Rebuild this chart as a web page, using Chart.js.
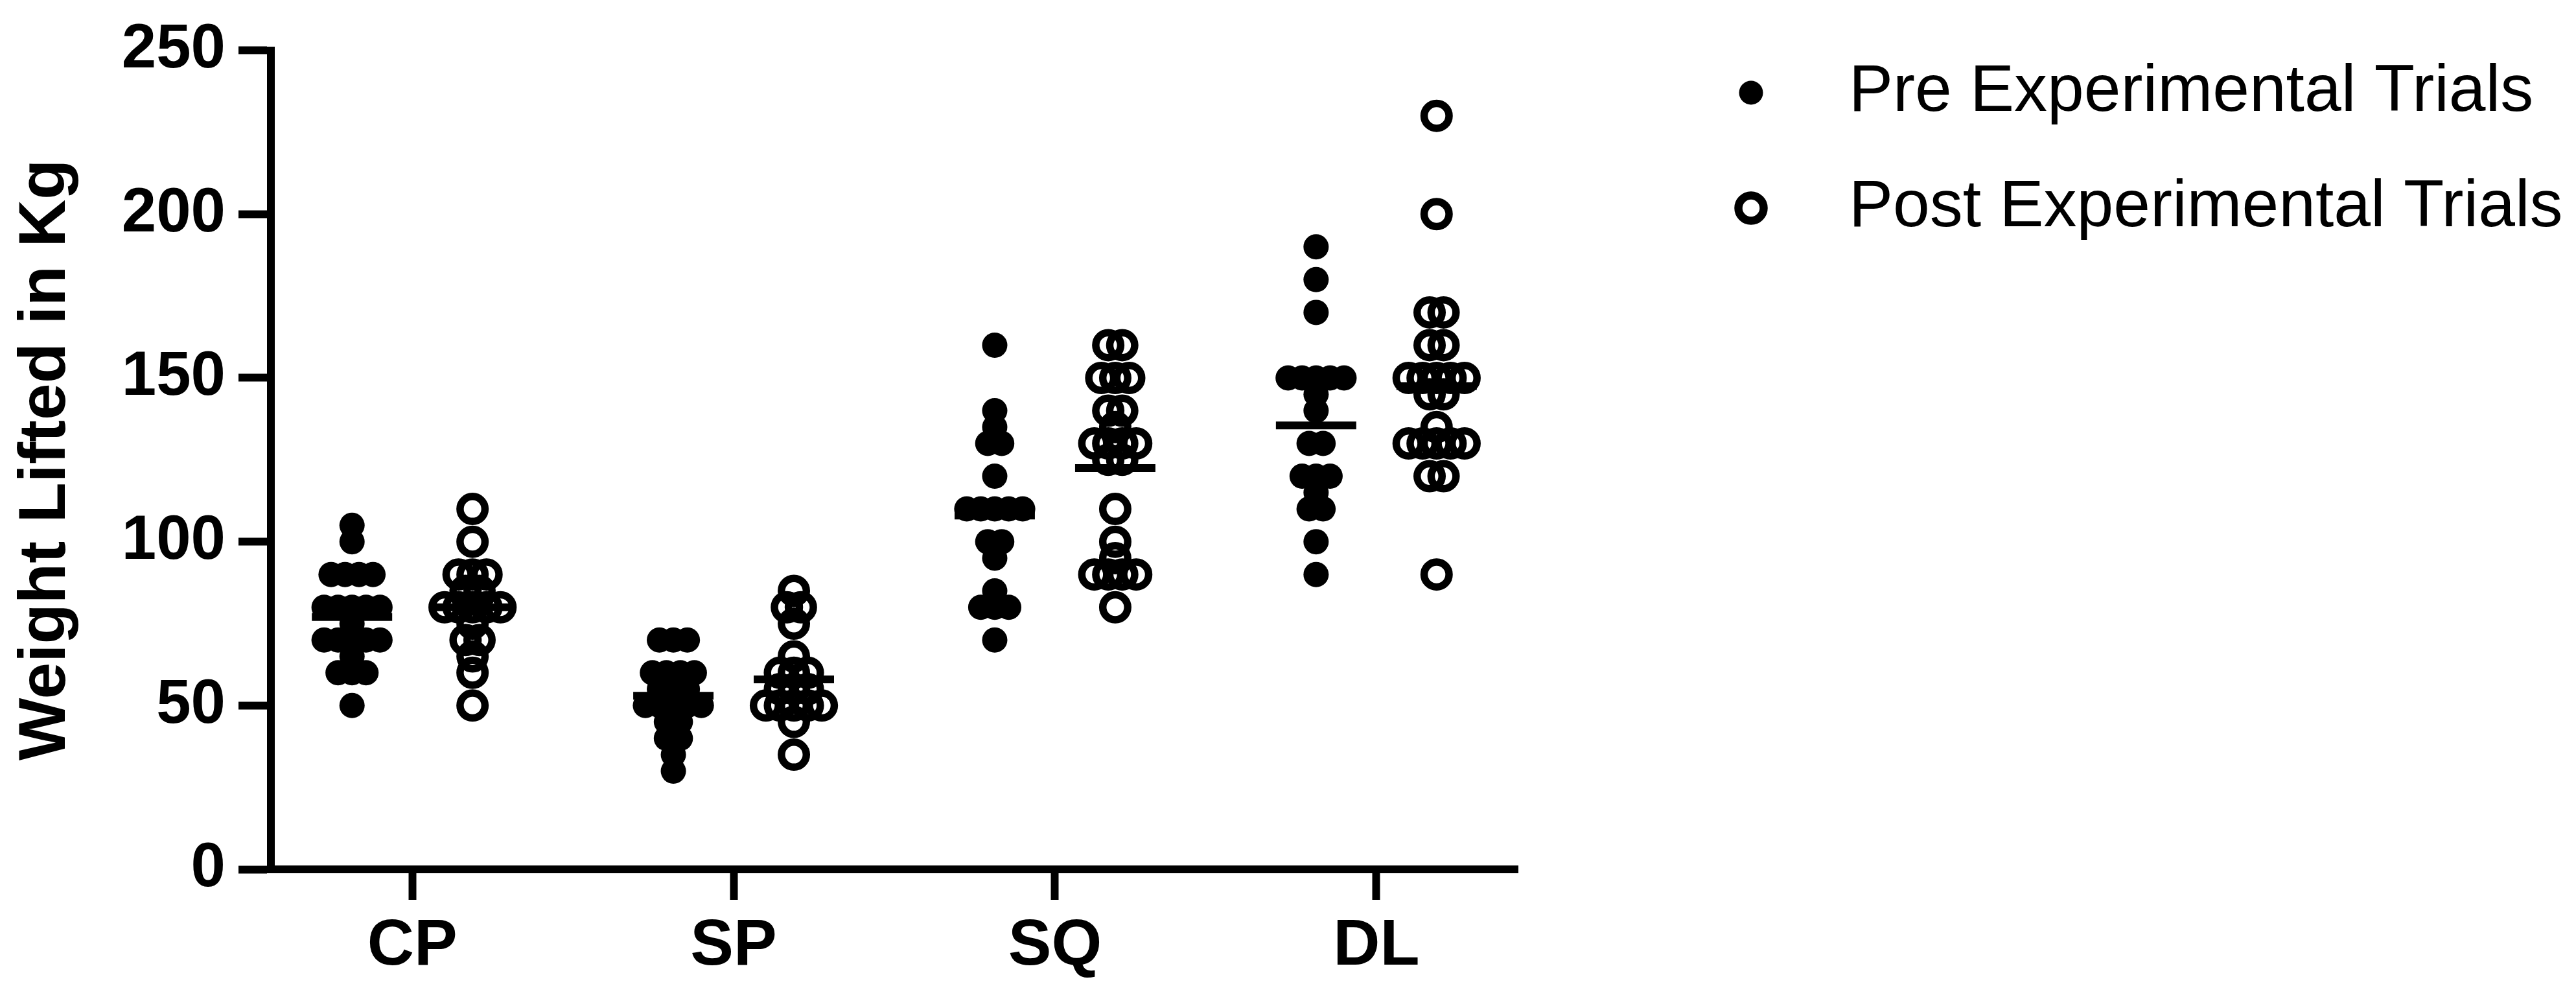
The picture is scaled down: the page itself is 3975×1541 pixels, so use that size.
<!DOCTYPE html>
<html>
<head>
<meta charset="utf-8">
<script src="https://cdn.jsdelivr.net/npm/chart.js@4"></script>
<style>
  html, body { margin: 0; padding: 0; background: #fff; }
</style>
</head>
<body>
<canvas id="grafico" width="3975" height="1541"></canvas>
<script>
// datos (kg)
const categorias = ["CP", "SP", "SQ", "DL"];
const series = ["Pre Experimental Trials", "Post Experimental Trials"];
const yTicks = [0, 50, 100, 150, 200, 250];

const cpPre = [105, 100, 90, 90, 90, 90, 80, 80, 80, 80, 80, 75, 70, 70, 70, 70, 70, 65, 60, 60, 60, 50];
const cpPost = [110, 100, 90, 90, 90, 85, 85, 80, 80, 80, 80, 80, 75, 70, 70, 65, 60, 50];
const spPre = [70, 70, 70, 60, 60, 60, 60, 55, 55, 55, 50, 50, 50, 50, 50, 45, 45, 40, 40, 35, 30];
const spPost = [85, 80, 80, 75, 65, 60, 60, 60, 55, 55, 55, 50, 50, 50, 50, 50, 45, 35];
const sqPre = [160, 140, 135, 130, 130, 120, 110, 110, 110, 110, 110, 100, 100, 95, 85, 80, 80, 80, 70];
const sqPost = [160, 160, 150, 150, 150, 140, 140, 135, 130, 130, 130, 130, 125, 125, 110, 100, 95, 90, 90, 90, 90, 80];
const dlPre = [190, 180, 170, 150, 150, 150, 150, 150, 145, 140, 130, 130, 120, 120, 120, 115, 110, 110, 100, 90];
const dlPost = [230, 200, 170, 170, 160, 160, 150, 150, 150, 150, 150, 145, 145, 135, 130, 130, 130, 130, 130, 120, 120, 90];

// medias (líneas horizontales)
const mediaPre = [77, 53, 108, 135.5];
const mediaPost = [80, 58, 122.5, 147.5];

const fuente = "'Liberation Sans', Arial, sans-serif";
const DESPLAZA = 0.1875;   // separación pre/post respecto a la categoría
const PASO = 0.0435;       // separación entre puntos de igual valor
const MEDIO_ANCHO = 0.125; // media longitud de la línea de media

// reparte horizontalmente los puntos con el mismo valor
function enjambre(valores, centro) {
  const cuenta = {};
  valores.forEach(v => cuenta[v] = (cuenta[v] || 0) + 1);
  const usados = {};
  return valores.map(v => {
    usados[v] = (usados[v] === undefined) ? 0 : usados[v] + 1;
    return { x: centro + (usados[v] - (cuenta[v] - 1) / 2) * PASO, y: v };
  });
}

const gruposPre = [cpPre, spPre, sqPre, dlPre];
const gruposPost = [cpPost, spPost, sqPost, dlPost];

const puntosPre = gruposPre.flatMap((g, i) => enjambre(g, i + 1 - DESPLAZA));
const puntosPost = gruposPost.flatMap((g, i) => enjambre(g, i + 1 + DESPLAZA));

const lineasMedia = [];
categorias.forEach((c, i) => {
  [[mediaPre[i], -DESPLAZA], [mediaPost[i], DESPLAZA]].forEach(([m, d]) => {
    lineasMedia.push({ x: i + 1 + d - MEDIO_ANCHO, y: m });
    lineasMedia.push({ x: i + 1 + d + MEDIO_ANCHO, y: m });
    lineasMedia.push({ x: i + 1 + d, y: null });
  });
});

// leyenda dibujada a mano, arriba a la derecha
const leyenda = {
  id: "leyenda",
  afterDraw(chart) {
    const c = chart.ctx;
    const filas = [143, 321];
    c.save();
    c.font = `102px ${fuente}`;
    c.fillStyle = "#000";
    c.strokeStyle = "#000";
    c.textBaseline = "middle";
    series.forEach((nombre, i) => {
      const y = filas[i];
      c.beginPath();
      if (i === 0) {
        c.arc(2702, y, 18.5, 0, Math.PI * 2);
        c.fill();
      } else {
        c.lineWidth = 12.5;
        c.arc(2702, y, 19.5, 0, Math.PI * 2);
        c.stroke();
      }
      c.fillText(nombre, 2853, y);
    });
    c.restore();
  }
};

const ejeComun = {
  grid: { drawOnChartArea: false, drawTicks: true, tickWidth: 12, tickColor: "#000" },
  border: { display: true, width: 12, color: "#000" }
};

new Chart(document.getElementById("grafico"), {
  type: "scatter",
  data: {
    datasets: [
      {
        label: "Media",
        type: "line",
        data: lineasMedia,
        borderColor: "#000",
        borderWidth: 12,
        borderCapStyle: "butt",
        pointRadius: 0,
        spanGaps: false,
        order: 0
      },
      {
        label: series[0],
        data: puntosPre,
        pointStyle: "circle",
        pointRadius: 19.5,
        pointBackgroundColor: "#000",
        pointBorderWidth: 0,
        order: 1
      },
      {
        label: series[1],
        data: puntosPost,
        pointStyle: "circle",
        pointRadius: 19.25,
        pointBackgroundColor: "rgba(0,0,0,0)",
        pointBorderColor: "#000",
        pointBorderWidth: 11.5,
        order: 2
      }
    ]
  },
  options: {
    responsive: false,
    animation: false,
    devicePixelRatio: 1,
    layout: { padding: { left: 0, top: 59, right: 1633, bottom: 0 } },
    plugins: {
      legend: { display: false },
      tooltip: { enabled: false }
    },
    scales: {
      x: {
        type: "linear",
        min: 0.56,
        max: 4.44,
        afterBuildTicks: s => { s.ticks = categorias.map((c, i) => ({ value: i + 1 })); },
        afterFit: s => { s.height = 200; },
        ticks: {
          callback: v => categorias[v - 1],
          font: { family: fuente, size: 100, weight: "bold" },
          color: "#000",
          padding: 12,
          maxRotation: 0,
          autoSkip: false
        },
        grid: { ...ejeComun.grid, tickLength: 47 },
        border: ejeComun.border
      },
      y: {
        min: 0,
        max: 250,
        afterBuildTicks: s => { s.ticks = yTicks.map(v => ({ value: v })); },
        afterFit: s => { s.width = 418; },
        ticks: {
          font: { family: fuente, size: 96, weight: "bold" },
          color: "#000",
          padding: 20
        },
        grid: { ...ejeComun.grid, tickLength: 50 },
        border: ejeComun.border,
        title: {
          display: true,
          text: "Weight Lifted in Kg",
          font: { family: fuente, size: 102, weight: "bold" },
          color: "#000",
          padding: { top: 11, bottom: 0 }
        }
      }
    }
  },
  plugins: [leyenda]
});
</script>
</body>
</html>
